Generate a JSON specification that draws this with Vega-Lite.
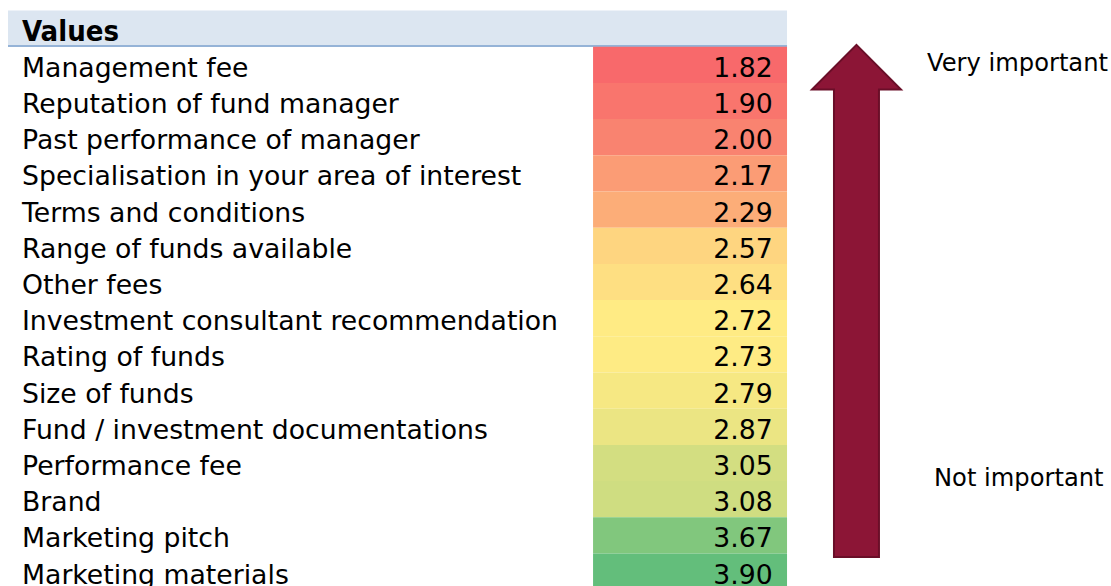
{
  "$schema": "https://vega.github.io/schema/vega-lite/v6.json",
  "width": 1111,
  "height": 586,
  "padding": 0,
  "autosize": {"type": "none"},
  "background": "white",
  "config": {"view": {"stroke": null}},
  "datasets": {
    "rows": [
      {"label": "Management fee", "value": 1.82},
      {"label": "Reputation of fund manager", "value": 1.90},
      {"label": "Past performance of manager", "value": 2.00},
      {"label": "Specialisation in your area of interest", "value": 2.17},
      {"label": "Terms and conditions", "value": 2.29},
      {"label": "Range of funds available", "value": 2.57},
      {"label": "Other fees", "value": 2.64},
      {"label": "Investment consultant recommendation", "value": 2.72},
      {"label": "Rating of funds", "value": 2.73},
      {"label": "Size of funds", "value": 2.79},
      {"label": "Fund / investment documentations", "value": 2.87},
      {"label": "Performance fee", "value": 3.05},
      {"label": "Brand", "value": 3.08},
      {"label": "Marketing pitch", "value": 3.67},
      {"label": "Marketing materials", "value": 3.90}
    ],
    "header": [{"label": "Values"}],
    "top": [{"note": "Very important"}],
    "bottom": [{"note": "Not important"}]
  },
  "layer": [
    {
      "data": {"name": "header"},
      "mark": {"type": "rect", "fill": "#DCE6F1"},
      "encoding": {
        "x": {"datum": 0.72, "type": "quantitative", "scale": {"domain": [0, 100], "nice": false, "zero": false}, "axis": null},
        "x2": {"datum": 70.84},
        "y": {"field": "label", "type": "nominal", "axis": null,
              "scale": {"domain": ["Values", "Management fee", "Reputation of fund manager", "Past performance of manager", "Specialisation in your area of interest", "Terms and conditions", "Range of funds available", "Other fees", "Investment consultant recommendation", "Rating of funds", "Size of funds", "Fund / investment documentations", "Performance fee", "Brand", "Marketing pitch", "Marketing materials"],
                        "range": [10.5, 589.7], "paddingInner": 0, "paddingOuter": 0}}
      }
    },
    {
      "data": {"name": "header"},
      "mark": {"type": "rule", "stroke": "#95B3D7", "strokeWidth": 2, "yOffset": 17.4},
      "encoding": {
        "x": {"datum": 0.72, "type": "quantitative"},
        "x2": {"datum": 70.84},
        "y": {"field": "label", "type": "nominal"}
      }
    },
    {
      "data": {"name": "header"},
      "mark": {"type": "text", "align": "left", "baseline": "middle", "font": "DejaVu Sans Condensed", "fontWeight": "bold", "fontSize": 29, "color": "#000000", "dy": 3},
      "encoding": {
        "x": {"datum": 1.98, "type": "quantitative"},
        "y": {"field": "label", "type": "nominal"},
        "text": {"field": "label"}
      }
    },
    {
      "data": {"name": "rows"},
      "mark": {"type": "rect"},
      "encoding": {
        "x": {"datum": 53.38, "type": "quantitative"},
        "x2": {"datum": 70.84},
        "y": {"field": "label", "type": "nominal"},
        "color": {"field": "value", "type": "quantitative", "legend": null,
                  "scale": {"domain": [1.82, 2.72, 3.90], "range": ["#F8696B", "#FFEB84", "#63BE7B"], "interpolate": "rgb"}}
      }
    },
    {
      "data": {"name": "rows"},
      "mark": {"type": "text", "align": "left", "baseline": "middle", "font": "DejaVu Sans", "fontSize": 26.7, "color": "#000000", "dy": 4},
      "encoding": {
        "x": {"datum": 1.98, "type": "quantitative"},
        "y": {"field": "label", "type": "nominal"},
        "text": {"field": "label"}
      }
    },
    {
      "data": {"name": "rows"},
      "mark": {"type": "text", "align": "right", "baseline": "middle", "font": "DejaVu Sans", "fontSize": 26.7, "color": "#000000", "dy": 4},
      "encoding": {
        "x": {"datum": 69.55, "type": "quantitative"},
        "y": {"field": "label", "type": "nominal"},
        "text": {"field": "value", "type": "quantitative", "format": ".2f"}
      }
    },
    {
      "data": {"name": "top"},
      "mark": {"type": "point", "filled": true, "opacity": 1, "fill": "#8C1536", "stroke": "#6A0E28", "strokeWidth": 2,
               "shape": "M0,-1L0.1628,-0.8364L0.0823,-0.8364L0.0823,0.8734L-0.0823,0.8734L-0.0823,-0.8364L-0.1628,-0.8364Z",
               "size": 298772},
      "encoding": {
        "x": {"datum": 77.09, "type": "quantitative"},
        "y": {"datum": "Investment consultant recommendation", "type": "nominal"}
      }
    },
    {
      "data": {"name": "top"},
      "mark": {"type": "text", "align": "left", "baseline": "middle", "font": "DejaVu Sans", "fontSize": 24.2, "color": "#000000", "dy": -1},
      "encoding": {
        "x": {"datum": 83.44, "type": "quantitative"},
        "y": {"datum": "Management fee", "type": "nominal"},
        "text": {"field": "note"}
      }
    },
    {
      "data": {"name": "bottom"},
      "mark": {"type": "text", "align": "left", "baseline": "middle", "font": "DejaVu Sans", "fontSize": 24.2, "color": "#000000", "dy": 16},
      "encoding": {
        "x": {"datum": 84.07, "type": "quantitative"},
        "y": {"datum": "Performance fee", "type": "nominal"},
        "text": {"field": "note"}
      }
    }
  ]
}
